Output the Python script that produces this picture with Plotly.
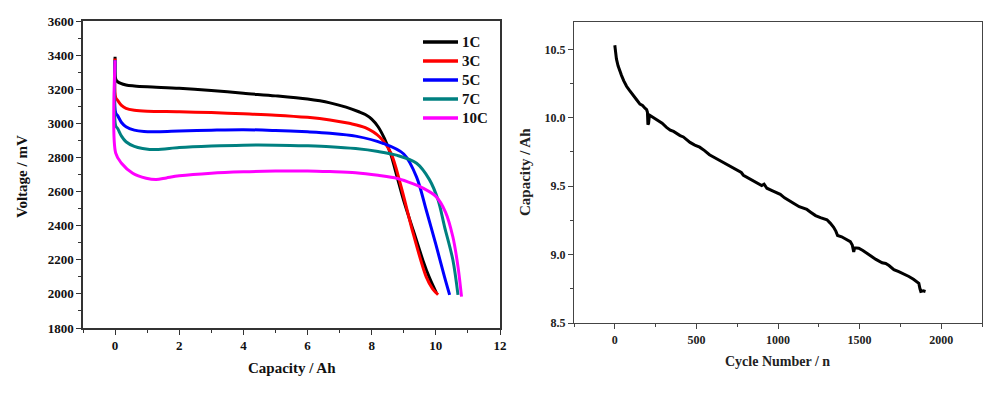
import plotly.graph_objects as go

# ---- Left chart: discharge curves at different rates ----
rate_names = ["1C", "3C", "5C", "7C", "10C"]
rate_colors = ["#000000", "#ff0000", "#0000ff", "#008080", "#ff00ff"]

cap_1c = [0, 0.02, 0.08, 0.34, 0.6, 1, 2, 3, 4, 5, 6, 6.7, 7.2, 7.6, 7.8, 8.0, 8.2, 8.4, 8.6, 8.8, 9.0, 9.3, 9.6, 9.8, 10.02]
volt_1c = [3390, 3260, 3244, 3225, 3219, 3214, 3206, 3193, 3176, 3161, 3142, 3120, 3095, 3068, 3052, 3025, 2980, 2910, 2815, 2680, 2545, 2370, 2195, 2095, 2004]

cap_3c = [0, 0.02, 0.08, 0.2, 0.34, 0.6, 1, 2, 3, 4, 5, 6, 6.7, 7.3, 7.8, 8.25, 8.6, 8.9, 9.3, 9.7, 9.9, 10.07]
volt_3c = [3380, 3150, 3135, 3105, 3088, 3077, 3071, 3068, 3063, 3056, 3048, 3035, 3020, 3000, 2975, 2920, 2825, 2640, 2350, 2100, 2030, 1995]

cap_5c = [0, 0.02, 0.08, 0.2, 0.34, 0.6, 0.9, 1.4, 2, 3, 4, 5, 6, 6.7, 7.5, 8.35, 9.0, 9.4, 9.7, 10.0, 10.27, 10.43]
volt_5c = [3370, 3060, 3045, 3005, 2980, 2960, 2952, 2951, 2955, 2960, 2963, 2958, 2950, 2942, 2925, 2883, 2820, 2685, 2492, 2290, 2100, 1994]

cap_7c = [0, 0.02, 0.08, 0.2, 0.34, 0.6, 0.86, 1.28, 2, 3, 4, 5, 6, 6.7, 7.5, 8.2, 8.8, 9.4, 9.8, 10.07, 10.27, 10.53, 10.69]
volt_7c = [3370, 2985, 2970, 2925, 2892, 2865, 2853, 2846, 2858, 2867, 2872, 2872, 2868, 2863, 2852, 2835, 2812, 2766, 2670, 2550, 2395, 2200, 1994]

cap_10c = [0, 0.02, 0.2, 0.55, 0.97, 1.28, 1.6, 2, 3, 4, 5, 6, 6.7, 7.5, 8.2, 8.8, 9.3, 9.6, 10.0, 10.3, 10.53, 10.69, 10.8]
volt_10c = [3370, 2825, 2766, 2707, 2678, 2670, 2680, 2692, 2708, 2716, 2720, 2721, 2717, 2710, 2695, 2677, 2645, 2620, 2572, 2480, 2335, 2160, 1984]

caps = [cap_1c, cap_3c, cap_5c, cap_7c, cap_10c]
volts = [volt_1c, volt_3c, volt_5c, volt_7c, volt_10c]

# ---- Right chart: cycle life ----
cycle_n = [0, 5, 10, 20, 30, 41, 55, 72, 90, 113, 135, 154, 170, 185, 195, 200, 203, 207, 212, 225, 246,
           270, 290, 317, 340, 360, 379, 400, 420, 440, 461, 490, 520, 550, 580, 610, 640, 670, 706, 740,
           760, 775, 788, 810, 840, 870, 900, 915, 922, 932, 960, 990, 1000, 1014, 1040, 1070, 1095, 1130,
           1150, 1177, 1200, 1230, 1260, 1280, 1300, 1320, 1341, 1355, 1365, 1390, 1423, 1443, 1455, 1460,
           1464, 1470, 1495, 1520, 1545, 1566, 1600, 1638, 1660, 1680, 1710, 1740, 1770, 1802, 1830, 1850,
           1863, 1870, 1875, 1890, 1904]
cycle_cap = [10.53, 10.48, 10.43, 10.38, 10.34, 10.31, 10.27, 10.23, 10.20, 10.16, 10.13, 10.10, 10.09, 10.07,
             10.06, 10.04, 9.95, 9.96, 10.02, 10.01, 10.00, 9.98, 9.96, 9.93, 9.91, 9.90, 9.885, 9.87, 9.86,
             9.84, 9.82, 9.80, 9.785, 9.76, 9.73, 9.71, 9.69, 9.67, 9.64, 9.62, 9.605, 9.60, 9.58, 9.565,
             9.545, 9.52, 9.505, 9.515, 9.50, 9.485, 9.47, 9.45, 9.445, 9.44, 9.415, 9.39, 9.375, 9.35, 9.34,
             9.33, 9.31, 9.285, 9.27, 9.265, 9.255, 9.23, 9.20, 9.17, 9.14, 9.13, 9.11, 9.095, 9.07, 9.04,
             9.02, 9.05, 9.047, 9.03, 9.01, 8.99, 8.965, 8.94, 8.935, 8.92, 8.89, 8.875, 8.86, 8.84, 8.82,
             8.80, 8.79, 8.75, 8.73, 8.735, 8.73]

# page has an 8px body margin: figure is 992x387 starting at (8, 8)
OFF = 8.0
W = 992.0
H = 387.0


def px(x):
    return (x - OFF) / W


def py(y):
    return 1 - (y - OFF) / H


fig = go.Figure()
for name, color, xs, ys in zip(rate_names, rate_colors, caps, volts):
    fig.add_trace(go.Scatter(x=xs, y=ys, mode="lines", name=name, showlegend=False,
                             line=dict(color=color, width=3, shape="spline", smoothing=0.9),
                             xaxis="x", yaxis="y"))

fig.add_trace(go.Scatter(x=cycle_n, y=cycle_cap, mode="lines", showlegend=False,
                         line=dict(color="#000000", width=3), xaxis="x2", yaxis="y2"))

tf_left = dict(family="Liberation Serif", size=13, color="#111111", weight="bold")
tf_right = dict(family="Liberation Serif", size=12, color="#222222", weight="bold")

common_left = dict(showline=True, linecolor="#333333", linewidth=1.5, mirror=True,
                   ticks="outside", ticklen=5, tickwidth=1.2, tickcolor="#333333",
                   showgrid=False, zeroline=False, tickfont=tf_left, automargin=False)
common_right = dict(showline=True, linecolor="#444444", linewidth=1.2, mirror=True,
                    ticks="outside", ticklen=5, tickwidth=1, tickcolor="#444444",
                    showgrid=False, zeroline=False, tickfont=tf_right, automargin=False)

legend_font = dict(family="Liberation Serif", size=15, color="#111111", weight="bold")
shapes = []
annotations = []
for i, (name, color) in enumerate(zip(rate_names, rate_colors)):
    yc = py(42 + 19 * i)
    shapes.append(dict(type="line", xref="paper", yref="paper",
                       x0=px(423), x1=px(458), y0=yc, y1=yc,
                       line=dict(color=color, width=3.5)))
    annotations.append(dict(text=name, x=px(460), y=yc, xref="paper", yref="paper",
                            xanchor="left", yanchor="middle", showarrow=False, font=legend_font))

annotations += [
    dict(text="Voltage / mV", x=px(22), y=py(177), xref="paper", yref="paper",
         xanchor="center", yanchor="middle", textangle=-90, showarrow=False,
         font=dict(family="Liberation Serif", size=15, color="#111111", weight="bold")),
    dict(text="Capacity / Ah", x=px(292), y=py(368), xref="paper", yref="paper",
         xanchor="center", yanchor="middle", showarrow=False,
         font=dict(family="Liberation Serif", size=15, color="#111111", weight="bold")),
    dict(text="Capacity / Ah", x=px(525), y=py(172), xref="paper", yref="paper",
         xanchor="center", yanchor="middle", textangle=-90, showarrow=False,
         font=dict(family="Liberation Serif", size=15, color="#222222", weight="bold")),
    dict(text="Cycle Number / n", x=px(777), y=py(361), xref="paper", yref="paper",
         xanchor="center", yanchor="middle", showarrow=False,
         font=dict(family="Liberation Serif", size=14, color="#222222", weight="bold")),
]

fig.update_layout(
    width=int(W), height=int(H),
    margin=dict(l=0, r=0, t=0, b=0, autoexpand=False),
    paper_bgcolor="white", plot_bgcolor="white",
    showlegend=False,
    xaxis=dict(domain=[px(83), px(500)], range=[-1, 12], tick0=0, dtick=2,
               minor=dict(ticks="outside", ticklen=3, dtick=1, tick0=0, tickcolor="#333333"),
               anchor="y", **common_left),
    yaxis=dict(domain=[py(328), py(21)], range=[1800, 3600], tick0=1800, dtick=200,
               minor=dict(ticks="outside", ticklen=3, dtick=100, tickcolor="#333333"),
               anchor="x", **common_left),
    xaxis2=dict(domain=[px(574), px(982)], range=[-250, 2250], tick0=0, dtick=500,
                minor=dict(ticks="outside", ticklen=3, dtick=250, tick0=0, tickcolor="#444444"),
                anchor="y2", **common_right),
    yaxis2=dict(domain=[py(323), py(22)], range=[8.5, 10.7], tick0=8.5, dtick=0.5,
                tickformat=".1f",
                minor=dict(ticks="outside", ticklen=3, dtick=0.25, tick0=8.5, tickcolor="#444444"),
                anchor="x2", **common_right),
    shapes=shapes,
    annotations=annotations,
)

fig.write_html("out.html")
